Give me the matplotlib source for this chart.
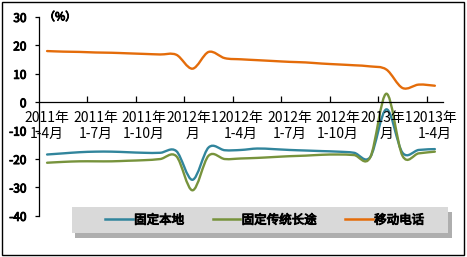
import matplotlib
matplotlib.use("Agg")
import matplotlib.pyplot as plt
import matplotlib.patheffects as pe
import numpy as np
from matplotlib.path import Path
from matplotlib.patches import PathPatch, Rectangle
from matplotlib.lines import Line2D

plt.rcParams['font.family'] = ['Noto Sans CJK SC', 'DejaVu Sans']
plt.rcParams['axes.unicode_minus'] = False

# categories: 2011年1-4月 ... 2013年1-4月 (25 periods), label every 3rd
tick_labels = ["2011年\n1-4月", "2011年\n1-7月", "2011年\n1-10月", "2012年1\n月",
               "2012年\n1-4月", "2012年\n1-7月", "2012年\n1-10月", "2013年1\n月",
               "2013年\n1-4月"]

names = ["固定本地", "固定传统长途", "移动电话"]
colors = ["#31859C", "#77933C", "#E46C0A"]

local = [-18.4, -18.0, -17.6, -17.4, -17.4, -17.6, -17.8, -17.8, -17.2, -27.3,
         -15.9, -16.9, -16.8, -16.3, -16.5, -16.8, -17.0, -17.2, -17.4, -17.8,
         -19.3, -2.5, -17.8, -16.8, -16.5]
longdist = [-21.3, -21.0, -20.8, -20.8, -20.8, -20.6, -20.4, -20.0, -19.0, -31.0,
            -18.8, -20.0, -19.8, -19.6, -19.3, -19.0, -18.8, -18.5, -18.4, -18.6,
            -19.4, 3.0, -18.9, -18.0, -17.4]
mobile = [18.0, 17.8, 17.7, 17.5, 17.4, 17.2, 17.0, 16.8, 16.7, 11.8,
          17.7, 15.5, 15.1, 14.8, 14.5, 14.2, 14.0, 13.6, 13.3, 13.0,
          12.6, 11.5, 5.0, 6.2, 5.8]

bold = [pe.withStroke(linewidth=0.7, foreground='black')]


def smooth_path(y):
    # Excel-like smoothed line: cubic bezier through every data point
    y = np.asarray(y, float)
    x = np.arange(len(y), dtype=float)
    pts = np.column_stack([x, y])
    verts = [pts[0]]
    codes = [Path.MOVETO]
    n = len(pts)
    for i in range(n - 1):
        p0 = pts[i - 1] if i > 0 else pts[i]
        p1 = pts[i]
        p2 = pts[i + 1]
        p3 = pts[i + 2] if i + 2 < n else pts[i + 1]
        c1 = p1 + (p2 - p0) / 6.0
        c2 = p2 - (p3 - p1) / 6.0
        verts += [c1, c2, p2]
        codes += [Path.CURVE4] * 3
    return Path(verts, codes)


fig = plt.figure(figsize=(4.67, 2.57), dpi=100)
ax = fig.add_axes([0.0835, 0.16, 0.865, 0.774])

for data, c in zip([local, longdist, mobile], colors):
    ax.add_patch(PathPatch(smooth_path(data), facecolor='none', edgecolor=c,
                           lw=1.7, capstyle='round', joinstyle='round'))

n = len(mobile)
ax.set_xlim(-0.5, n - 0.5)
ax.set_ylim(-40, 30)
ax.set_yticks(np.arange(-40, 31, 10))

ax.set_xticks(np.arange(0, n, 3))
ax.set_xticklabels(tick_labels, fontsize=8.5, linespacing=1.55)
ax.set_xticks(np.arange(2.5, n - 0.5, 3), minor=True)
ax.tick_params(axis='x', which='major', length=0, pad=6)
ax.tick_params(axis='x', which='minor', length=4, direction='in', width=0.9)
ax.tick_params(axis='y', length=3, width=0.9, pad=6, labelsize=8.5)
for lab in ax.get_xticklabels() + ax.get_yticklabels():
    lab.set_path_effects(bold)

ax.spines['bottom'].set_position(('data', 0))
ax.spines['top'].set_visible(False)
ax.spines['right'].set_visible(False)
for s in ['bottom', 'left']:
    ax.spines[s].set_linewidth(0.9)

ax.text(0.012, 1.0, "（%）", transform=ax.transAxes, fontsize=8,
        va='center', ha='left', path_effects=bold)

# legend box with shadow
fig.patches.append(Rectangle((0.160, 0.074), 0.808, 0.101, transform=fig.transFigure,
                             facecolor='#9a9a9a', edgecolor='none', alpha=0.8))
fig.patches.append(Rectangle((0.154, 0.093), 0.806, 0.101, transform=fig.transFigure,
                             facecolor='#d9d9d9', edgecolor='none'))
handles = [Line2D([], [], color=c, lw=1.8) for c in colors]
leg = fig.legend(handles, names, loc='center', bbox_to_anchor=(0.567, 0.143),
                 ncol=3, frameon=False, handlelength=2.2, handletextpad=0.1,
                 columnspacing=2.3, prop={'size': 9})
for t in leg.get_texts():
    t.set_path_effects(bold)

# outer frame
fig.patches.append(Rectangle((0.004, 0.006), 0.99, 0.988, transform=fig.transFigure,
                             facecolor='none', edgecolor='black', lw=1.0))

fig.savefig("out.png", dpi=100)
